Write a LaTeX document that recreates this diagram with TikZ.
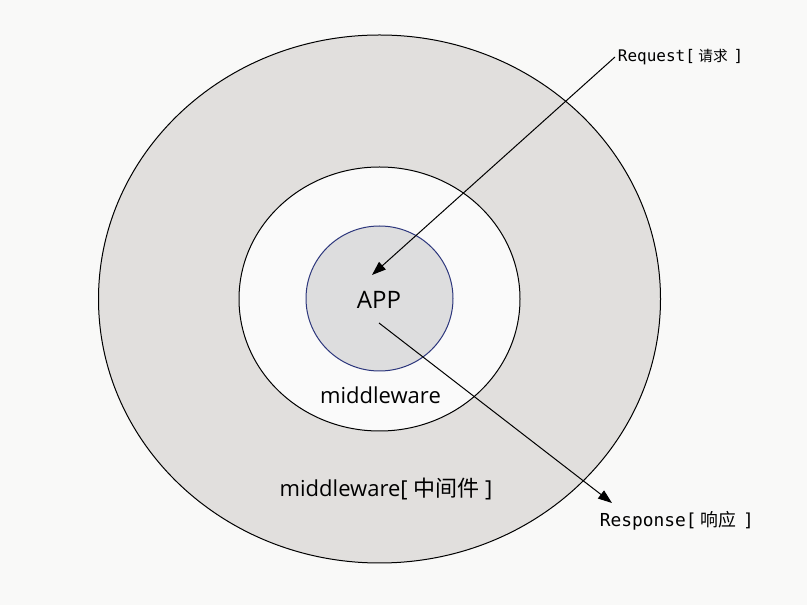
\documentclass[tikz,border=0pt]{standalone}
\usepackage{fontspec}
\setmainfont{Open Sans}
\setmonofont{DejaVu Sans Mono}
\newfontfamily\cjk{Noto Sans CJK SC}
\usetikzlibrary{arrows.meta}

\definecolor{paper}{RGB}{249,249,248}
\definecolor{ringgrey}{RGB}{225,223,221}
\definecolor{ringwhite}{RGB}{250,250,250}
\definecolor{appgrey}{RGB}{221,221,222}
\definecolor{appblue}{RGB}{44,54,124}

\tikzset{
  flow/.style={line width=0.75pt, -{Triangle[length=10.5pt,width=7.5pt]}},
  tag/.style={font=\ttfamily\fontsize{12}{14}\selectfont, inner sep=2pt, anchor=west},
  layer/.style={font=\fontsize{16.5}{20}\selectfont, inner sep=0pt}
}

\begin{document}
\begin{tikzpicture}[x=0.75pt,y=0.75pt,yscale=-1,xscale=1]
\useasboundingbox [fill=paper] (0,0) rectangle (807,605);

\draw  [fill=ringgrey][line width=0.75]   (379.5,299) ellipse (281 and 264) ;
\draw  [fill=ringwhite][line width=0.75]   (379.5,299) ellipse (140.5 and 132) ;
\draw  [draw=appblue,fill=appgrey][line width=0.75]   (379.5,298.5) ellipse (73.5 and 72.5) ;

\node (app) at (379,300) [font=\fontsize{18}{21}\selectfont, inner sep=0pt] {APP};
\node (mid) at (380.5,395) [layer] {middleware};
\node (outer) at (386,489) [layer] {middleware[\ {\cjk 中间件}\ ]};

\node (req) at (615,57) [tag] {Request[\hspace{2.5pt}{\cjk\fontsize{11}{13}\selectfont 请求}\hspace{4.5pt}]};
\node (resp) at (597,521) [tag, font=\ttfamily\fontsize{13.4}{15}\selectfont] {Response[\hspace{3pt}{\cjk 响应}\hspace{5pt}]};

\coordinate (appin) at (372,275);
\coordinate (appout) at (379,323);
\coordinate (respin) at (612,503);

\draw [flow] (req.west) -- (appin) ;
\draw [flow] (appout) -- (respin) ;

\end{tikzpicture}
\end{document}
